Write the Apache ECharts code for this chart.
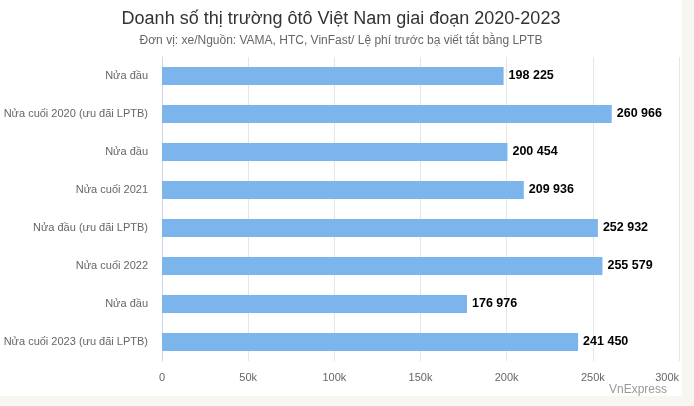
<!DOCTYPE html>
<html>
<head>
<meta charset="utf-8">
<script src="https://cdn.jsdelivr.net/npm/echarts@6/dist/echarts.min.js"></script>
<style>
html,body{margin:0;padding:0;background:#f8f6f1;}
#c{position:absolute;left:0;top:0;width:682px;height:396px;background:#fff;}
</style>
</head>
<body>
<div id="c"></div>
<script>
const categories = ["Nửa đầu","Nửa cuối 2020 (ưu đãi LPTB)","Nửa đầu","Nửa cuối 2021","Nửa đầu (ưu đãi LPTB)","Nửa cuối 2022","Nửa đầu","Nửa cuối 2023 (ưu đãi LPTB)"];
const sales = [198225, 260966, 200454, 209936, 252932, 255579, 176976, 241450];
const tickLabels = {0:"0",50000:"50k",100000:"100k",150000:"150k",200000:"200k",250000:"250k",300000:"300k"};

const chart = echarts.init(document.getElementById('c'), null, {renderer:'canvas'});
const fmt = v => String(v).replace(/\B(?=(\d{3})+(?!\d))/g, ' ');
chart.setOption({
  animation:false,
  backgroundColor:'#fff',
  textStyle:{fontFamily:'Liberation Sans, Arial, sans-serif'},
  title:[{
    text:'Doanh số thị trường ôtô Việt Nam giai đoạn 2020-2023',
    left:'center', top:5,
    textStyle:{fontSize:18,fontWeight:'normal',color:'#333',fontFamily:'Liberation Sans, Arial, sans-serif'}
  },{
    text:'Đơn vị: xe/Nguồn: VAMA, HTC, VinFast/ Lệ phí trước bạ viết tắt bằng LPTB',
    left:'center', top:30,
    textStyle:{fontSize:12,fontWeight:'normal',color:'#666',fontFamily:'Liberation Sans, Arial, sans-serif'}
  },{
    text:'VnExpress', right:10, top:379,
    textStyle:{fontSize:12,fontWeight:'normal',color:'#999',fontFamily:'Liberation Sans, Arial, sans-serif'}
  }],
  grid:{left:162, right:2, top:57, bottom:35, containLabel:false},
  xAxis:{
    type:'value', min:0, max:300000, interval:50000,
    axisLine:{show:false}, axisTick:{show:false},
    splitLine:{lineStyle:{color:'#e6e6e6'}},
    axisLabel:{color:'#666',fontSize:11,margin:11,
      formatter:v=>tickLabels[v], alignMaxLabel:'right'}
  },
  yAxis:{
    type:'category', data:categories, inverse:true,
    axisLine:{show:true,lineStyle:{color:'#ccd6eb'}},
    axisTick:{show:false},
    axisLabel:{color:'#666',fontSize:11,margin:14}
  },
  series:[{
    type:'bar', data:sales, barWidth:18,
    itemStyle:{color:'#7cb5ec'},
    label:{show:true,position:'right',distance:5,color:'#000',fontWeight:'bold',fontSize:12.5,
      formatter:p=>fmt(p.value)}
  }]
});
</script>
</body>
</html>
